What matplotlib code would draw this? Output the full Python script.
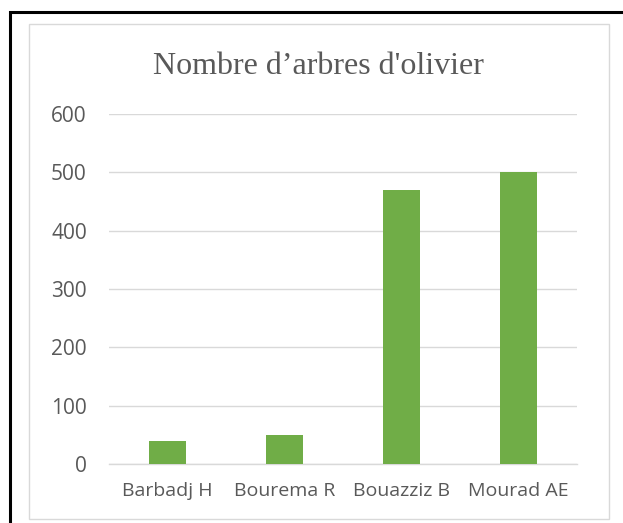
import matplotlib
matplotlib.use("Agg")
import matplotlib.pyplot as plt
from matplotlib.patches import Rectangle

categories = ["Barbadj H", "Bourema R", "Bouazziz B", "Mourad AE"]
values = [40, 50, 470, 500]
yticks = [0, 100, 200, 300, 400, 500, 600]
title = "Nombre d\u2019arbres d'olivier"

W, H = 623, 523
fig = plt.figure(figsize=(W / 100, H / 100), dpi=100)
fig.patch.set_facecolor("white")

# outer black frame (right and bottom run off the picture)
fig.add_artist(Rectangle((10 / W, 1 - 540 / H), 640 / W, 528 / H,
                         transform=fig.transFigure, fill=False,
                         edgecolor="black", linewidth=2.2))
# inner light grey chart border
fig.add_artist(Rectangle((28.5 / W, 1 - 519 / H), 580 / W, 495 / H,
                         transform=fig.transFigure, fill=False,
                         edgecolor="#D9D9D9", linewidth=1.0))

ax = fig.add_axes([109 / W, 1 - 464 / H, 468 / W, 350 / H])
x = range(len(categories))
ax.bar(x, values, width=0.31, color="#70AD47", zorder=3)
ax.set_xlim(-0.5, len(categories) - 0.5)
ax.set_ylim(0, 600)
ax.set_yticks(yticks)
ax.set_xticks(list(x))
ax.set_xticklabels(categories)
ax.grid(axis="y", color="#D9D9D9", linewidth=1.0, zorder=0)
for s in ["top", "right", "left"]:
    ax.spines[s].set_visible(False)
ax.spines["bottom"].set_color("#D9D9D9")
ax.spines["bottom"].set_linewidth(1.0)
ax.tick_params(axis="x", length=0, colors="#595959", labelsize=14, pad=13)
ax.tick_params(axis="y", length=0, colors="#595959", labelsize=15, pad=16)
for lab in ax.get_xticklabels() + ax.get_yticklabels():
    lab.set_fontfamily("Open Sans")

fig.text(318 / W, 1 - 67 / H, title, ha="center", va="center",
         fontsize=23, color="#595959", fontfamily="Liberation Serif")

fig.savefig("out.png", dpi=100)
